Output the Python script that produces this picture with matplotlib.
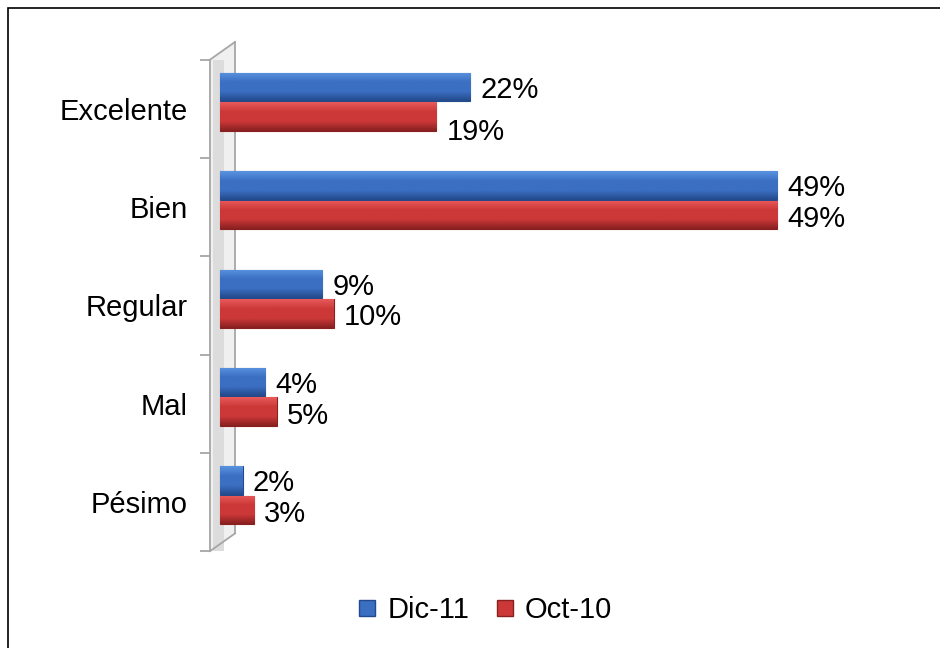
import numpy as np
import matplotlib.pyplot as plt
from matplotlib.patches import Rectangle, Polygon
from matplotlib.lines import Line2D
from matplotlib.colors import LinearSegmentedColormap

plt.rcParams['font.family'] = ['Liberation Sans', 'DejaVu Sans']

categories = ['Excelente', 'Bien', 'Regular', 'Mal', 'Pésimo']
dic11 = [22, 49, 9, 4, 2]
oct10 = [19, 49, 10, 5, 3]
series_names = ['Dic-11', 'Oct-10']

blue = ['#5a93e0', '#3b6fc2', '#234a8c']
red = ['#e85a5a', '#cc3838', '#882020']

fig = plt.figure(figsize=(9.4, 6.48), dpi=100)
ax = fig.add_axes([200 / 940, 88 / 648, 700 / 940, 520 / 648])
px = 11.37  # pixels per percent
ax.set_xlim(-20 / px, 680 / px)
ax.set_ylim(4.59, -0.70)

y = np.arange(len(categories))
h = 0.29


def shaded_bars(ypos, vals, cols):
    bars = ax.barh(ypos, vals, height=h, color=cols[1], edgecolor=cols[2], linewidth=0.8, zorder=3)
    grad = np.linspace(0, 1, 64).reshape(-1, 1)
    cmap = LinearSegmentedColormap.from_list('g', [cols[0], cols[1], cols[1], cols[2]])
    for b in bars:
        x0, y0 = b.get_x(), b.get_y()
        im = ax.imshow(grad, cmap=cmap, aspect='auto', zorder=3.5,
                       extent=(x0, x0 + b.get_width(), y0 + b.get_height(), y0))
        im.set_clip_path(b)
    return bars


shaded_bars(y - 0.22, dic11, blue)
shaded_bars(y + 0.08, oct10, red)

for i in range(len(categories)):
    ax.text(dic11[i] + 0.9, y[i] - 0.19, f'{dic11[i]}%', fontsize=21, va='center', ha='left', zorder=5)
    dy = 0.24 if i == 0 else 0.12
    ax.text(oct10[i] + 0.9, y[i] + dy, f'{oct10[i]}%', fontsize=21, va='center', ha='left', zorder=5)

# back wall
wl, wr, d = -10 / px, 15 / px, -0.18
wall = Polygon([(wl, -0.5), (wr, -0.5 + d), (wr, 4.5 + d), (wl, 4.5)],
               closed=True, facecolor='#f0f0f0', edgecolor='none', zorder=1)
ax.add_patch(wall)
ax.add_patch(Rectangle((wl + 0.3, -0.5), 0.9, 5.0, facecolor='#dcdcdc', edgecolor='none', zorder=1.2))
wall_col = '#a6a6a6'
ax.plot([wl, wr], [-0.5, -0.5 + d], color=wall_col, lw=1.3, zorder=2)
ax.plot([wl, wr], [4.5, 4.5 + d], color=wall_col, lw=1.3, zorder=2)
ax.plot([wr, wr], [-0.5 + d, 4.5 + d], color=wall_col, lw=1.3, zorder=2)

for s in ['top', 'right', 'bottom']:
    ax.spines[s].set_visible(False)
ax.spines['left'].set_position(('data', wl))
ax.spines['left'].set_bounds(-0.5, 4.5)
ax.spines['left'].set_color(wall_col)
ax.spines['left'].set_linewidth(1.3)
ax.set_xticks([])
ax.set_yticks(y)
ax.set_yticklabels(categories, fontsize=21)
ax.set_yticks(np.arange(-0.5, len(categories)), minor=True)
ax.tick_params(axis='y', which='major', length=0, pad=16)
ax.tick_params(axis='y', which='minor', length=7, width=1.3, color=wall_col)

handles = [Line2D([], [], marker='s', linestyle='none', markersize=11,
                  markerfacecolor=blue[1], markeredgecolor=blue[2]),
           Line2D([], [], marker='s', linestyle='none', markersize=11,
                  markerfacecolor=red[1], markeredgecolor=red[2])]
fig.legend(handles, series_names, loc='center', bbox_to_anchor=(481 / 940, 38 / 648),
           ncol=2, frameon=False, fontsize=21, handletextpad=0.1, columnspacing=0.6,
           handlelength=1.2)

fig.patches.append(Rectangle((8 / 940, -0.01), 2, 1.0 - 8 / 648 + 0.01, transform=fig.transFigure,
                             fill=False, edgecolor='black', linewidth=1.2))

fig.savefig('out.png', dpi=100)
